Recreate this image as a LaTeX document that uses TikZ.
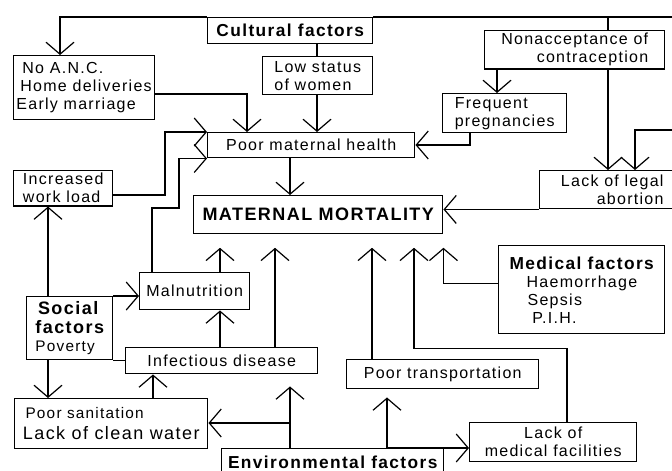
\documentclass[tikz,border=0pt]{standalone}
\usepackage{fontspec}
\setmainfont{Liberation Sans}[LetterSpace=8]
\usetikzlibrary{arrows.meta,calc}

\begin{document}
\begin{tikzpicture}[x=0.75pt, y=-0.75pt, line width=0.9pt,
    box/.style={draw, line width=1.1pt, inner sep=2pt, anchor=north west,
        font=\fontsize{12}{13.5}\selectfont},
    heading/.style={font=\fontsize{13}{15}\bfseries\selectfont},
    arr/.style={-{Straight Barb[length=9pt,width=21pt]}},
    short/.style={shorten >=10pt}]
    \useasboundingbox (0,0) rectangle (672,471);
    \clip (0,0) rectangle (672,471);

    \node[box, heading, minimum width=123.75pt, minimum height=19.5pt] (cult) at (207,17) {Cultural factors};
    \node[box, align=left, minimum width=105pt, minimum height=48pt] (noanc) at (13,55)
        {\hspace*{4.5pt}No A.N.C.\\\hspace*{3pt}Home deliveries\\Early marriage};
    \node[box, align=left, minimum width=82.5pt, minimum height=28.5pt] (lowst) at (262,56) {Low status\\of women};
    \node[box, align=right, minimum width=135pt, minimum height=28.5pt] (nonacc) at (484,30) {Nonacceptance of\\contraception};
    \node[box, align=left, minimum width=93pt, minimum height=29.25pt] (freq) at (442,93) {Frequent\\pregnancies};
    \node[box, minimum width=155.25pt, minimum height=18.75pt] (pmh) at (207,132) {Poor maternal health};
    \node[box, align=right, minimum width=108.75pt, minimum height=28.5pt] (legal) at (539,170) {Lack of legal\\abortion};
    \node[box, align=left, minimum width=74.25pt, minimum height=24.75pt] (work) at (13,170) {Increased\\work load};
    \node[box, font=\fontsize{13.5}{15}\bfseries\selectfont, minimum width=186.75pt, minimum height=28.5pt] (mm) at (193,195) {MATERNAL MORTALITY};
    \node[box, align=left, minimum width=124.5pt, minimum height=66pt] (medical) at (498,245)
        {{\fontsize{13}{14}\bfseries\selectfont Medical factors}\\\hspace*{12.75pt}Haemorrhage\\\hspace*{13.5pt}Sepsis\\\hspace*{17pt}P.I.H.};
    \node[box, minimum width=82.5pt, minimum height=27.75pt] (maln) at (139,272) {Malnutrition};
    \node[box, align=left, minimum width=64.5pt, minimum height=47.25pt, font=\fontsize{13.5}{14}\bfseries\selectfont] (social) at (26,296)
        {\hspace*{2pt}Social\\factors\\{\fontsize{11.5}{13}\mdseries\selectfont Poverty}};
    \node[box, minimum width=144pt, minimum height=19.5pt] (infect) at (125,347) {Infectious disease};
    \node[box, minimum width=144pt, minimum height=21.75pt] (trans) at (346,359) {Poor transportation};
    \node[box, align=left, minimum width=144.75pt, minimum height=37.5pt] (sanit) at (14,398)
        {{\fontsize{11.5}{13}\selectfont\hspace*{2pt}Poor sanitation}\\[2pt]{\fontsize{13.5}{15}\selectfont Lack of clean water}};
    \node[box, align=center, minimum width=125.25pt, minimum height=29.25pt] (medfac) at (469,422) {Lack of\\medical facilities};
    \node[box, heading, minimum width=166.5pt, minimum height=21pt] (env) at (221,448) {Environmental factors};

    % cultural factors
    \draw[arr] (cult.north west) -| ($(noanc.north west)+(47,0)$);
    \coordinate (rgt) at (690,130);
    \draw[arr] (cult.north east) -| (rgt) -| ($(legal.north west)+(96,0)$);
    \draw ($(nonacc.north west)+(124,0)$) |- (cult.north east);
    \draw ($(cult.south west)+(110,0)$) -- ($(lowst.north west)+(55,0)$);
    \draw[arr] ($(lowst.south west)+(55,0)$) -- ($(pmh.north west)+(110,0)$);
    \draw[arr] ($(noanc.north east)+(0,39)$) -| ($(pmh.north west)+(40,0)$);
    \draw[arr] ($(nonacc.south west)+(13,0)$) -- ($(freq.north west)+(55,0)$);
    \draw[arr] ($(nonacc.south west)+(124,0)$) -- ($(legal.north west)+(69,0)$);
    \draw[arr] ($(freq.south west)+(28,0)$) |- ($(pmh.north east)+(0,13)$);
    \draw[arr] ($(pmh.south west)+(83,0)$) -- ($(mm.north west)+(97,0)$);
    \draw[arr] (legal.south west) -- (legal.south west -| mm.east);

    % social factors
    \draw[arr] ($(work.north east)+(0,25)$) -| ($(pmh.north west)+(-42,0)$) -- (pmh.north west);
    \draw[arr] ($(maln.north west)+(13,0)$) |- ($(maln.north west)+(40,-64)$) |- (pmh.south west);
    \draw[arr, short] ($(maln.north west)+(81,0)$) -- ($(mm.south west)+(27,0)$);
    \draw[arr] ($(infect.north west)+(95,0)$) -- ($(maln.south west)+(81,0)$);
    \draw[arr, short] ($(infect.north west)+(150,0)$) -- ($(mm.south west)+(82,0)$);
    \draw[arr] ($(social.north west)+(22,0)$) -- ($(work.south west)+(35,0)$);
    \draw[arr] (social.north east) -- (social.north east -| maln.west);
    \draw (social.south east) -- (social.south east -| infect.west);
    \draw[arr] ($(social.south west)+(22,0)$) -- ($(sanit.north west)+(34,0)$);
    \draw[arr] ($(sanit.north west)+(139,0)$) -- ($(infect.south west)+(28,0)$);

    % environmental and medical factors
    \draw[arr] ($(env.north west)+(69,0)$) |- ($(sanit.north east)+(0,25)$);
    \draw[arr, shorten >=9pt] ($(env.north west)+(69,0)$) -- ($(infect.south west)+(165,0)$);
    \draw[arr, shorten >=6pt] ($(env.north west)+(166,0)$) -- ($(trans.south west)+(41,0)$);
    \draw[arr] ($(env.north west)+(166,0)$) -- (medfac.west |- env.north);
    \draw[arr, short] ($(trans.north west)+(26,0)$) -- ($(mm.south west)+(179,0)$);
    \draw[arr, short] ($(medfac.north west)+(98,0)$) |- ($(mm.south west)+(221,114)$) -- ($(mm.south west)+(221,0)$);
    \draw[arr, short] ($(medical.west)+(0,-6)$) -| (mm.south east);
\end{tikzpicture}
\end{document}
